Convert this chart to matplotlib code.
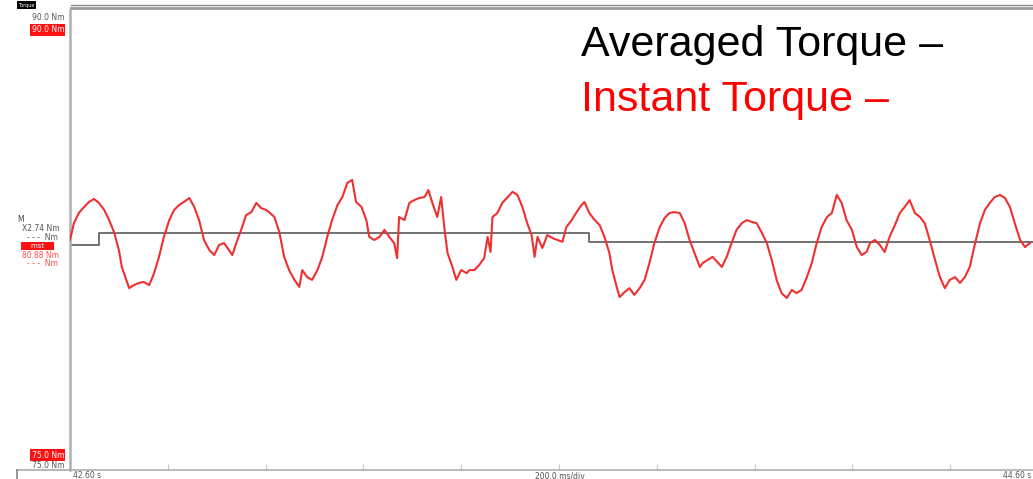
import matplotlib

matplotlib.use("Agg")
import matplotlib.pyplot as plt
from matplotlib.lines import Line2D

W, H = 1033, 479

# time offsets in ms from 42.60 s, torque in Nm
instant_time_ms = [
    0, 8, 18, 29, 39, 49, 59, 70, 80, 90, 100, 106, 115, 121, 131, 141, 151,
    162, 172, 182, 192, 203, 213, 223, 233, 244, 254, 264, 274, 285, 295, 305,
    315, 325, 332, 340, 350, 360, 371, 381, 391, 401,
    407, 418, 428, 438, 448, 459, 469, 475, 485, 495, 506, 516, 526, 536, 547,
    557, 567, 577, 585, 596, 606, 612, 622, 633, 643, 653, 663, 669, 673, 684,
    694, 704, 714, 725, 733, 741, 751, 759, 766, 772, 782, 790, 800, 811,
    817, 827, 837, 847, 854, 860, 864, 874, 884, 895, 905, 915, 925, 935, 944,
    950, 956, 966, 976, 987, 997, 1007, 1015, 1026, 1036, 1046, 1052, 1062,
    1073, 1083, 1093, 1103, 1109, 1118, 1124, 1134, 1144, 1154, 1165, 1175,
    1185, 1195, 1206, 1216,
    1226, 1236, 1247, 1257, 1267, 1277, 1288, 1294, 1304, 1314, 1324, 1333,
    1343, 1353, 1363, 1374, 1384, 1394, 1404, 1414, 1425, 1435, 1445, 1455,
    1466, 1476, 1486, 1496, 1507, 1517, 1527, 1537, 1548, 1558, 1568, 1578,
    1588, 1599, 1609, 1619, 1629,
    1636, 1646, 1656, 1666, 1676, 1687, 1697, 1707, 1717, 1728, 1738, 1748,
    1758, 1769, 1779, 1789, 1799, 1810, 1820, 1830, 1840, 1851, 1861, 1871,
    1881, 1891, 1902, 1912, 1922, 1932, 1943, 1953, 1963,
]
instant_torque = [
    82.50, 83.05, 83.38, 83.58, 83.74, 83.84, 83.71, 83.48, 83.15, 82.76,
    82.17, 81.62, 81.20, 80.93, 81.03, 81.10, 81.13, 81.03, 81.42, 81.95,
    82.60, 83.15, 83.48, 83.64, 83.74, 83.87, 83.58, 83.15, 82.50, 82.17,
    82.01, 82.34, 82.40, 82.17, 82.01, 82.40, 82.83, 83.31, 83.41, 83.71,
    83.54, 83.48,
    83.41, 83.25, 82.76, 81.95, 81.52, 81.20, 80.97, 81.52, 81.29, 81.20,
    81.52, 81.95, 82.60, 83.15, 83.64, 83.90, 84.36, 84.46, 83.74, 83.58,
    83.15, 82.60, 82.50, 82.60, 82.83, 82.60, 82.40, 81.91, 83.25, 83.15,
    83.71, 83.80, 83.87, 83.90, 84.13, 83.71, 83.25, 83.90, 82.83, 82.08,
    81.62, 81.20, 81.52, 81.42,
    81.52, 81.52, 81.69, 81.91, 82.60, 82.11, 83.25, 83.38, 83.71, 83.90,
    84.07, 83.97, 83.58, 83.05, 82.66, 81.95, 82.60, 82.24, 82.66, 82.56,
    82.50, 82.44, 82.92, 83.15, 83.41, 83.64, 83.74, 83.38, 83.15, 82.99,
    82.60, 82.08, 81.52, 80.97, 80.64, 80.80, 80.93, 80.71, 80.93, 81.20,
    81.75, 82.40, 82.92, 83.22,
    83.38, 83.41, 83.38, 83.05, 82.50, 82.08, 81.62, 81.75, 81.85, 81.95,
    81.78, 81.62, 81.95, 82.40, 82.83, 83.05, 83.15, 83.09, 83.05, 82.76,
    82.40, 81.85, 81.20, 80.77, 80.61, 80.87, 80.77, 80.87, 81.29, 81.75,
    82.40, 82.92, 83.25, 83.38, 83.97, 83.71, 83.15, 82.83, 82.27, 82.01,
    82.11,
    82.40, 82.50, 82.34, 82.11, 82.60, 82.99, 83.38, 83.58, 83.80, 83.38,
    83.25, 83.05, 82.50, 81.85, 81.29, 80.93, 81.20, 81.29, 81.10, 81.29,
    81.62, 82.40, 83.05, 83.48, 83.71, 83.90, 83.97, 83.87, 83.58, 83.05,
    82.50, 82.27, 82.40,
]

averaged_time_ms = [0, 59, 1062, 2000]
averaged_torque = [82.35, 82.72, 82.43, 82.43]

y_top, y_bottom = 90.0, 75.0
span_ms = 2000
div_ms = 200


def px(x, y):
    # pixel position on the screenshot -> figure fraction
    return x / W, 1 - y / H


def add_side_panel(fig):
    small = dict(fontsize=5.5, family="DejaVu Sans")
    red_box = dict(boxstyle="square,pad=0.15", fc="#ff1010", ec="none")

    fig.text(*px(18, 5), "Torque", color="white", va="center", fontsize=3.5,
             bbox=dict(boxstyle="square,pad=0.25", fc="black", ec="none"))
    fig.text(*px(64, 18), f"{y_top:.1f} Nm", color="#555555", ha="right",
             va="center", **small)
    fig.text(*px(64, 30), f"{y_top:.1f} Nm", color="white", ha="right",
             va="center", bbox=red_box, **small)

    fig.text(*px(17, 219), "M", color="#444444", va="center", fontsize=5.5)
    fig.text(*px(22, 229), "X2.74 Nm", color="#555555", va="center", **small)
    fig.text(*px(27, 238), "- - -  Nm", color="#555555", va="center", **small)
    fig.text(*px(22, 246), "    mst    ", color="white", va="center",
             bbox=red_box, fontsize=5)
    fig.text(*px(22, 255), "80.88 Nm", color="#ff5050", va="center", **small)
    fig.text(*px(27, 264), "- - -  Nm", color="#ff5050", va="center", **small)

    fig.text(*px(64, 455), f"{y_bottom:.1f} Nm", color="white", ha="right",
             va="center", bbox=red_box, **small)
    fig.text(*px(64, 466), f"{y_bottom:.1f} Nm", color="#555555", ha="right",
             va="center", **small)

    fig.text(*px(73, 476), "42.60 s", color="#555555", va="center", **small)
    fig.text(*px(560, 476), f"{div_ms:.1f} ms/div", color="#555555",
             ha="center", va="center", **small)
    fig.text(*px(1031, 476), "44.60 s", color="#555555", ha="right",
             va="center", **small)


def add_frame_lines(fig):
    for y, lw, c in [(4.5, 1.0, "#888888"), (8.0, 2.0, "#9a9a9a")]:
        fig.add_artist(Line2D([71 / W, 1], [1 - y / H] * 2, lw=lw, color=c))
    fig.add_artist(Line2D([17 / W, 71 / W], [1 - 470 / H] * 2, lw=1.2,
                          color="#aaaaaa"))
    fig.add_artist(Line2D([17 / W] * 2, [0, 1 - 470 / H], lw=1.2,
                          color="#888888"))


def plot_torque():
    fig = plt.figure(figsize=(W / 100, H / 100), dpi=100)
    fig.patch.set_facecolor("white")

    left, right, top, bottom = 70, 1048, 10, 470
    ax = fig.add_axes([left / W, 1 - bottom / H, (right - left) / W,
                       (bottom - top) / H])
    ax.plot(averaged_time_ms, averaged_torque, drawstyle="steps-post",
            color="#5a5a5a", lw=1.2, zorder=2)
    ax.plot(instant_time_ms, instant_torque, color="#ee3030", lw=1.5,
            zorder=3)
    ax.set_xlim(0, span_ms)
    ax.set_ylim(y_bottom, y_top)

    for s in ["top", "right"]:
        ax.spines[s].set_visible(False)
    ax.spines["left"].set_color("#b0b0b0")
    ax.spines["left"].set_linewidth(1.8)
    ax.spines["bottom"].set_color("#b0b0b0")
    ax.spines["bottom"].set_linewidth(1.2)
    ax.set_xticks(range(div_ms, span_ms, div_ms))
    ax.set_xticklabels([])
    ax.set_yticks([])
    ax.tick_params(axis="x", direction="in", length=4, color="#c8c8c8")

    fig.text(*px(581, 45), "Averaged Torque \u2013", color="black",
             fontsize=31, family="Liberation Sans", va="center")
    fig.text(*px(581, 100), "Instant Torque \u2013", color="#ff0000",
             fontsize=31, family="Liberation Sans", va="center")

    add_side_panel(fig)
    add_frame_lines(fig)
    fig.savefig("out.png", dpi=100)


if __name__ == "__main__":
    plot_torque()
